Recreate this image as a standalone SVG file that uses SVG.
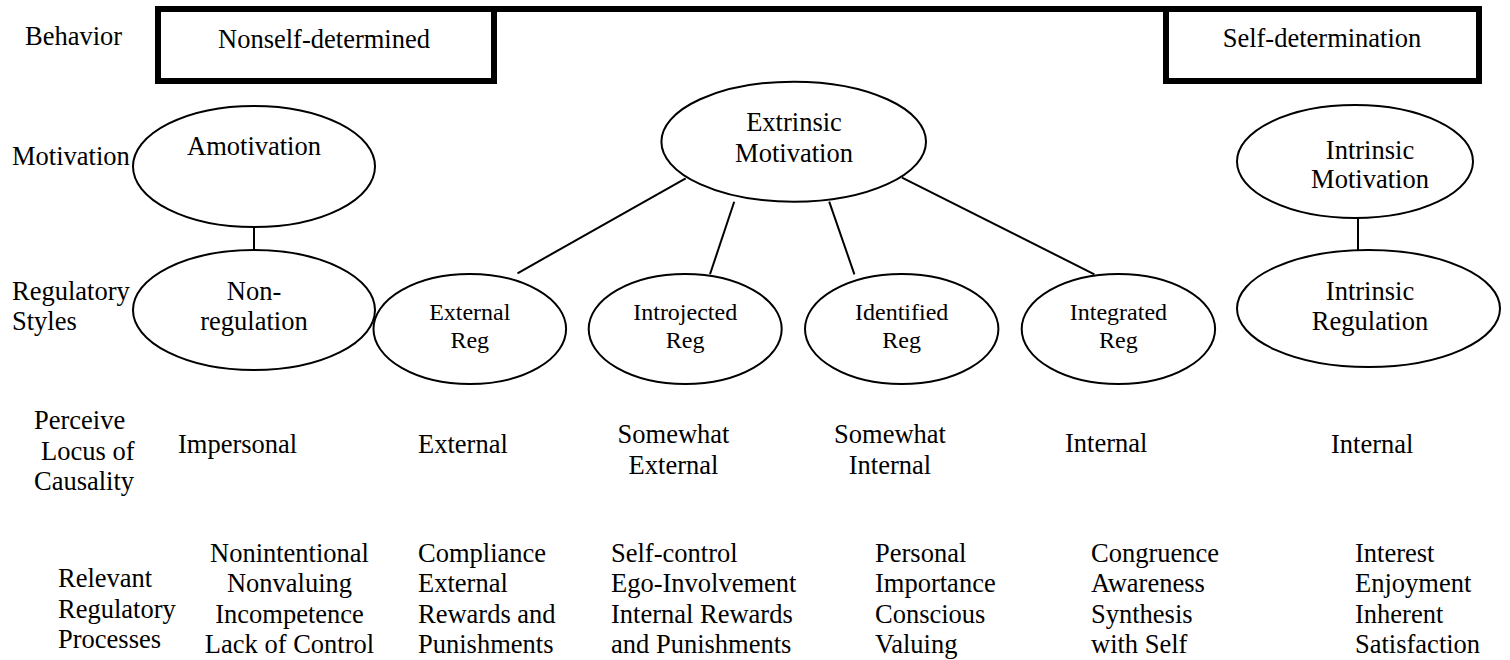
<svg xmlns="http://www.w3.org/2000/svg" width="1510" height="660" viewBox="0 0 1510 660">
  <style>
    text { font-family: "Liberation Serif", "Times New Roman", serif; font-size: 26.5px; fill: #000; }
    .mid { text-anchor: middle; }
    .sm { font-size: 24px; }
    .node { fill: #fff; stroke: #000; stroke-width: 2; }
    .frame { fill: none; stroke: #000; stroke-width: 6; stroke-linejoin: miter; }
    .link { stroke: #000; stroke-width: 2; fill: none; }
  </style>
  <rect width="1510" height="660" fill="#fff"/>

  <!-- Behaviour bar: two boxes joined by a top rule -->
  <g id="behavior-bar">
    <path class="frame" d="M158,81 V9 H494 V81 Z M494,9 H1166 M1166,81 V9 H1479 V81 Z"/>
  </g>

  <!-- Row labels -->
  <g id="row-labels">
    <text x="25" y="45">Behavior</text>
    <text x="12" y="165">Motivation</text>
    <text x="12" y="300">Regulatory</text>
    <text x="12" y="330">Styles</text>
    <text x="34" y="429">Perceive</text>
    <text x="41" y="460">Locus of</text>
    <text x="34" y="490">Causality</text>
    <text x="58" y="587">Relevant</text>
    <text x="58" y="618">Regulatory</text>
    <text x="58" y="648">Processes</text>
  </g>

  <g id="nonself-determined">
    <text class="mid" x="324" y="48">Nonself-determined</text>
  </g>
  <g id="self-determination">
    <text class="mid" x="1322" y="47">Self-determination</text>
  </g>

  <!-- Connectors -->
  <g id="connectors">
    <line class="link" x1="254" y1="227" x2="254" y2="250"/>
    <line class="link" x1="685.7" y1="178.3" x2="517.5" y2="273.3"/>
    <line class="link" x1="734.2" y1="201.7" x2="710" y2="274.3"/>
    <line class="link" x1="829.2" y1="201.7" x2="854.4" y2="274.3"/>
    <line class="link" x1="902" y1="177.7" x2="1094.4" y2="274.3"/>
    <line class="link" x1="1358" y1="218" x2="1358" y2="250"/>
  </g>

  <!-- Motivation nodes -->
  <g id="amotivation">
    <ellipse class="node" cx="254" cy="166.5" rx="121" ry="60.5"/>
    <text class="mid" x="254" y="155">Amotivation</text>
  </g>
  <g id="extrinsic-motivation">
    <ellipse class="node" cx="793.7" cy="141.7" rx="132.3" ry="60"/>
    <text class="mid" x="794" y="131">Extrinsic</text>
    <text class="mid" x="794" y="162">Motivation</text>
  </g>
  <g id="intrinsic-motivation">
    <ellipse class="node" cx="1355" cy="161.5" rx="118" ry="56.5"/>
    <text class="mid" x="1370" y="159">Intrinsic</text>
    <text class="mid" x="1370" y="188">Motivation</text>
  </g>

  <!-- Regulatory style nodes -->
  <g id="non-regulation">
    <ellipse class="node" cx="254" cy="310" rx="121" ry="60"/>
    <text class="mid" x="254" y="300">Non-</text>
    <text class="mid" x="254" y="330">regulation</text>
  </g>
  <g id="external-reg">
    <ellipse class="node" cx="469.8" cy="329" rx="96.3" ry="55"/>
    <text class="mid sm" x="469.8" y="320">External</text>
    <text class="mid sm" x="469.8" y="348">Reg</text>
  </g>
  <g id="introjected-reg">
    <ellipse class="node" cx="685.2" cy="329" rx="96.5" ry="55"/>
    <text class="mid sm" x="685.2" y="320">Introjected</text>
    <text class="mid sm" x="685.2" y="348">Reg</text>
  </g>
  <g id="identified-reg">
    <ellipse class="node" cx="901.7" cy="329" rx="96.7" ry="55"/>
    <text class="mid sm" x="901.7" y="320">Identified</text>
    <text class="mid sm" x="901.7" y="348">Reg</text>
  </g>
  <g id="integrated-reg">
    <ellipse class="node" cx="1118.4" cy="329" rx="96.7" ry="55"/>
    <text class="mid sm" x="1118.4" y="320">Integrated</text>
    <text class="mid sm" x="1118.4" y="348">Reg</text>
  </g>
  <g id="intrinsic-regulation">
    <ellipse class="node" cx="1368.5" cy="308.5" rx="131.5" ry="58.5"/>
    <text class="mid" x="1370" y="300">Intrinsic</text>
    <text class="mid" x="1370" y="330">Regulation</text>
  </g>

  <!-- Perceived locus of causality -->
  <g id="locus-row">
    <text x="178" y="453">Impersonal</text>
    <text x="418" y="453">External</text>
    <text class="mid" x="673.5" y="443">Somewhat</text>
    <text class="mid" x="673.5" y="474">External</text>
    <text class="mid" x="890" y="443">Somewhat</text>
    <text class="mid" x="890" y="474">Internal</text>
    <text x="1065" y="452">Internal</text>
    <text x="1331" y="453">Internal</text>
  </g>

  <!-- Relevant regulatory processes -->
  <g id="process-row">
    <text class="mid" x="289.5" y="562">Nonintentional</text>
    <text class="mid" x="289.5" y="592">Nonvaluing</text>
    <text class="mid" x="289.5" y="623">Incompetence</text>
    <text class="mid" x="289.5" y="653">Lack of Control</text>

    <text x="418" y="562">Compliance</text>
    <text x="418" y="592">External</text>
    <text x="418" y="623">Rewards and</text>
    <text x="418" y="653">Punishments</text>

    <text x="611" y="562">Self-control</text>
    <text x="611" y="592">Ego-Involvement</text>
    <text x="611" y="623">Internal Rewards</text>
    <text x="611" y="653">and Punishments</text>

    <text x="875" y="562">Personal</text>
    <text x="875" y="592">Importance</text>
    <text x="875" y="623">Conscious</text>
    <text x="875" y="653">Valuing</text>

    <text x="1091" y="562">Congruence</text>
    <text x="1091" y="592">Awareness</text>
    <text x="1091" y="623">Synthesis</text>
    <text x="1091" y="653">with Self</text>

    <text x="1355" y="562">Interest</text>
    <text x="1355" y="592">Enjoyment</text>
    <text x="1355" y="623">Inherent</text>
    <text x="1355" y="653">Satisfaction</text>
  </g>
</svg>
